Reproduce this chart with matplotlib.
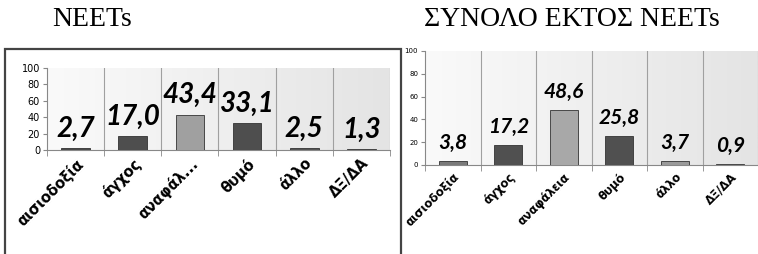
import numpy as np
import matplotlib
matplotlib.use("Agg")
import matplotlib.pyplot as plt
from matplotlib.patches import Rectangle
from matplotlib import font_manager as fm

# data
cats_left = ["αισιοδοξία", "άγχος", "αναφάλ...", "θυμό", "άλλο", "ΔΞ/ΔΑ"]
cats_right = ["αισιοδοξία", "άγχος", "αναφάλεια", "θυμό", "άλλο", "ΔΞ/ΔΑ"]
neets = [2.7, 17.0, 43.4, 33.1, 2.5, 1.3]
others = [3.8, 17.2, 48.6, 25.8, 3.7, 0.9]
titles = ["NEETs", "ΣΥΝΟΛΟ ΕΚΤΟΣ NEETs"]

cols_left = ["#4a4a4a", "#4e4e4e", "#a0a0a0", "#4e4e4e", "#555555", "#777777"]
cols_right = ["#7a7a7a", "#505050", "#a8a8a8", "#505050", "#9a9a9a", "#aaaaaa"]


def pick_font():
    # something calibri-like that really has a bold italic
    for f in ["Lato", "Noto Sans", "Open Sans", "Liberation Sans", "DejaVu Sans"]:
        try:
            p = fm.findfont(fm.FontProperties(family=f, style="italic", weight="bold"),
                            fallback_to_default=False)
        except Exception:
            continue
        if "italic" in p.lower() or "oblique" in p.lower():
            return f
    return "DejaVu Sans"


lab_font = pick_font()
tick_font = "DejaVu Sans"

fig = plt.figure(figsize=(7.58, 2.54), dpi=100)

# frame around left chart
fig.patches.append(Rectangle((0.0066, -0.05), 0.523, 0.857, transform=fig.transFigure,
                             fill=False, edgecolor="#444444", linewidth=1.6))

ax1 = fig.add_axes([0.062, 0.409, 0.4525, 0.323])
ax2 = fig.add_axes([0.5607, 0.3504, 0.4393, 0.449])


def draw(ax, cats, vals, cols, tick_fs, lab_fs, ytick_fs, off):
    x = np.arange(len(vals))
    # background gradient
    grad = np.linspace(0, 1, 200)[None, :]
    ax.imshow(grad, extent=(-0.5, len(vals) - 0.5, 0, 100), aspect="auto",
              cmap=matplotlib.colors.LinearSegmentedColormap.from_list("g", ["#fafafa", "#e4e4e4"]),
              vmin=0, vmax=1, zorder=0)
    ax.bar(x, vals, width=0.5, color=cols, edgecolor="#333333", linewidth=0.6, zorder=3)
    for xi, v in zip(x, vals):
        ax.annotate(f"{v:.1f}".replace(".", ","), (xi, v), xytext=(0, off),
                    textcoords="offset points", ha="center", va="center",
                    fontsize=lab_fs, fontweight="bold", fontstyle="italic",
                    family=lab_font, zorder=4)
    for b in np.arange(0.5, len(vals), 1):
        ax.axvline(b, color="#a0a0a0", linewidth=0.8, zorder=1)
    ax.set_xlim(-0.5, len(vals) - 0.5)
    ax.set_ylim(0, 100)
    ax.set_yticks(range(0, 101, 20))
    ax.tick_params(axis="y", labelsize=ytick_fs, length=3, color="#888888", pad=2)
    ax.set_xticks(np.arange(-0.5, len(vals), 1), minor=True)
    ax.set_xticks(x)
    ax.set_xticklabels(cats, rotation=45, ha="right", rotation_mode="anchor",
                       fontsize=tick_fs, fontweight="bold", family=tick_font)
    ax.tick_params(axis="x", which="major", length=0, pad=4)
    ax.tick_params(axis="x", which="minor", length=4, color="#888888")
    for s in ["top", "right"]:
        ax.spines[s].set_visible(False)
    ax.spines["left"].set_color("#888888")
    ax.spines["bottom"].set_color("#888888")


draw(ax1, cats_left, neets, cols_left, 10.5, 20, 7, 14)
draw(ax2, cats_right, others, cols_right, 8.5, 15, 5, 13)

fig.text(0.122, 0.922, titles[0], ha="center", va="center", fontsize=20,
         family="Liberation Serif")
fig.text(0.755, 0.922, titles[1], ha="center", va="center", fontsize=20,
         family="Liberation Serif")

fig.savefig("out.png", dpi=100)
